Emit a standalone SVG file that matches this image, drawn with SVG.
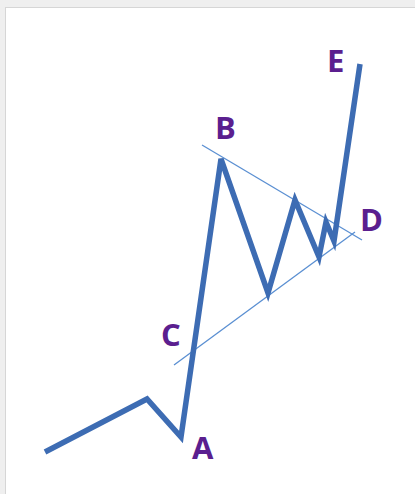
<svg xmlns="http://www.w3.org/2000/svg" width="415" height="494" viewBox="0 0 415 494">
<style>
.lbl{font-family:"Open Sans","Liberation Sans",sans-serif;font-weight:bold;font-size:31px;fill:#5b1f8f}
.wave{fill:none;stroke:#3d6cb3;stroke-width:5.5;stroke-linejoin:miter;stroke-linecap:butt}
.trend{fill:none;stroke:#5a8fd2;stroke-width:1.3}
</style>
<rect x="0" y="0" width="415" height="494" fill="#efefef"/>
<rect x="5.5" y="7.5" width="412" height="490" fill="#ffffff" stroke="#d6d6d6" stroke-width="1"/>
<g id="connectors">
<line class="trend" x1="202" y1="145" x2="362" y2="240"/>
<line class="trend" x1="174" y1="365" x2="355" y2="232"/>
<polyline class="wave" points="45,452 147,399 181,437 221,159 268,293 295,200 319,257 326,222 334,241 360,64"/>
</g>
<g id="E"><text class="lbl" x="327" y="72">E</text></g>
<g id="B"><text class="lbl" x="215" y="139">B</text></g>
<g id="C"><text class="lbl" x="161" y="346">C</text></g>
<g id="A"><text class="lbl" x="192" y="459">A</text></g>
<g id="D"><text class="lbl" x="360" y="231">D</text></g>
</svg>
